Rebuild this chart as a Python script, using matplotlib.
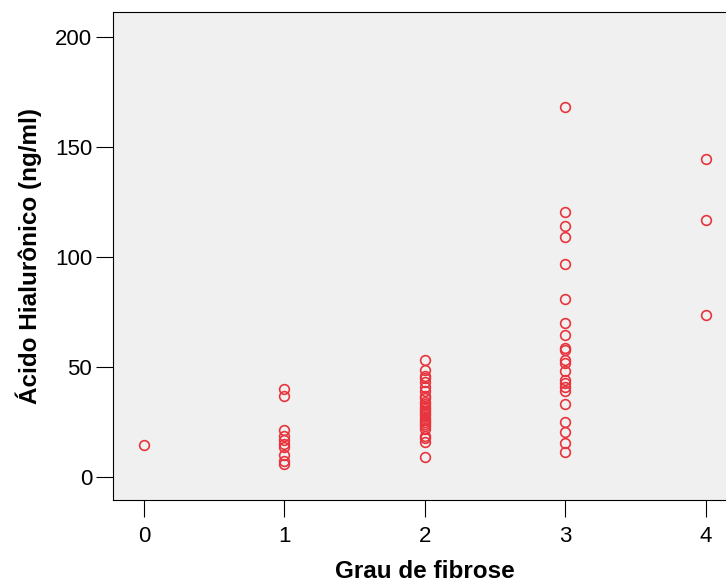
import matplotlib.pyplot as plt

plt.rcParams['font.family'] = ['Liberation Sans', 'DejaVu Sans']

# Ácido hialurônico por grau de fibrose
grau_0 = [14.5]
grau_1 = [40, 37, 21.5, 18.5, 17, 15, 13.5, 10, 7, 6]
grau_2 = [53, 48.5, 46, 45, 43, 41, 39, 37, 36, 34, 33, 32, 31, 30, 29, 28,
          27, 26, 25, 24, 23, 22, 18.5, 17.5, 16, 9]
grau_3 = [168, 120.5, 114, 109, 97, 81, 70, 64.5, 58.5, 57.5, 53, 52, 48,
          44, 42.5, 41, 39, 33, 25, 20.5, 15.5, 11.5]
grau_4 = [144.5, 117, 73.5]

grupos = [grau_0, grau_1, grau_2, grau_3, grau_4]
xticks = [0, 1, 2, 3, 4]
yticks = [0, 50, 100, 150, 200]

fig = plt.figure(figsize=(7.26, 5.83), dpi=100)
ax = fig.add_axes([0.1556, 0.1424, 0.859, 0.837])
ax.set_facecolor('#f0f0f0')

for g, vals in zip(xticks, grupos):
    ax.plot([g] * len(vals), vals, linestyle='none', marker='o', ms=7,
            mfc='none', mec='#e8343c', mew=1.2)

ax.set_xlim(-0.22, 4.22)
ax.set_ylim(-10.5, 211.4)
ax.set_xticks(xticks)
ax.set_yticks(yticks)
ax.tick_params(axis='both', length=12, width=0.8, labelsize=16)
ax.tick_params(axis='x', pad=7)
ax.tick_params(axis='y', pad=3)
ax.spines['right'].set_visible(False)
for s in ['left', 'bottom', 'top']:
    ax.spines[s].set_linewidth(0.8)

ax.set_xlabel('Grau de fibrose', fontsize=17.5, fontweight='bold', labelpad=9)
ax.set_ylabel('Ácido Hialurônico (ng/ml)', fontsize=17.5, fontweight='bold', labelpad=9)

fig.savefig('out.png', dpi=100)
